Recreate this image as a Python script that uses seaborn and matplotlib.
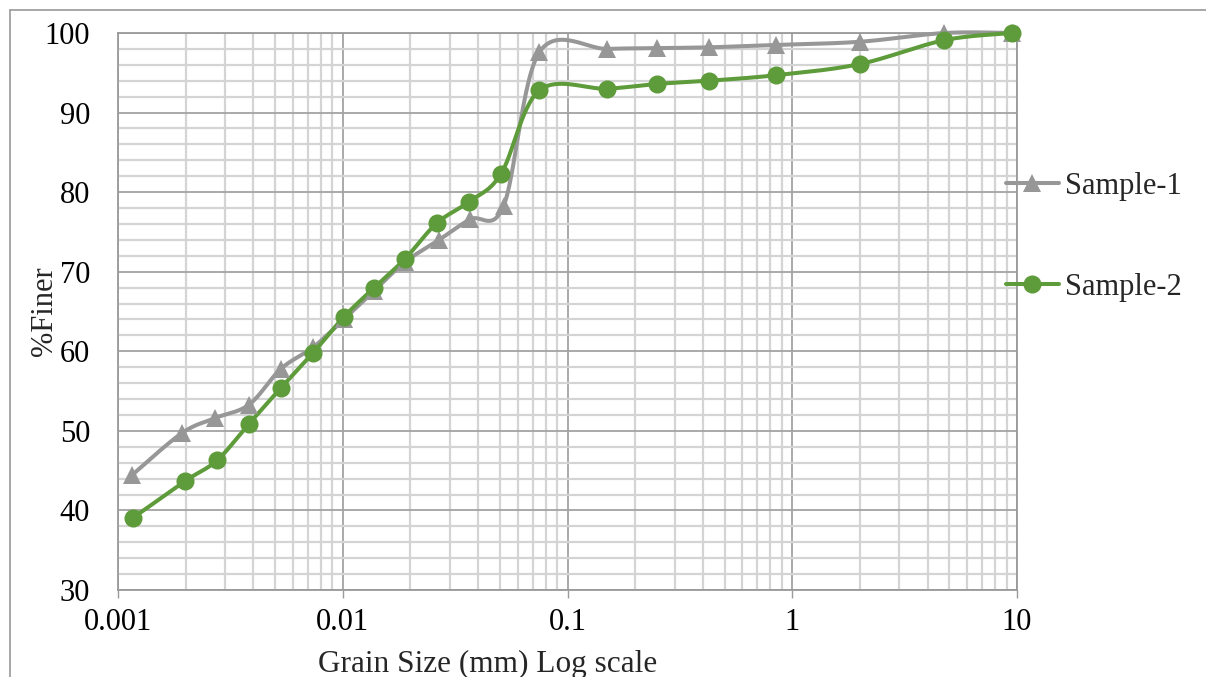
import numpy as np
import pandas as pd
import matplotlib
matplotlib.use("Agg")
import matplotlib.pyplot as plt
import seaborn as sns
from matplotlib.lines import Line2D
from matplotlib.ticker import FixedLocator, NullFormatter, MultipleLocator

# ---------------- data ----------------
size_s1 = [0.00115, 0.00192, 0.00270, 0.00383, 0.00531, 0.00738, 0.0101, 0.0138,
           0.0189, 0.0268, 0.0370, 0.0520, 0.075, 0.15, 0.25, 0.425, 0.85, 2.0, 4.75, 9.5]
finer_s1 = [44.4, 49.7, 51.6, 53.3, 57.8, 60.5, 64.0, 67.6,
            71.2, 74.0, 76.6, 78.3, 97.6, 98.0, 98.1, 98.2, 98.5, 98.9, 100.0, 100.0]

size_s2 = [0.00117, 0.00199, 0.00276, 0.00383, 0.00531, 0.00738, 0.0101, 0.0138,
           0.0189, 0.0262, 0.0365, 0.0506, 0.075, 0.15, 0.25, 0.425, 0.85, 2.0, 4.75, 9.5]
finer_s2 = [39.1, 43.7, 46.3, 50.9, 55.4, 59.8, 64.3, 68.0,
            71.6, 76.1, 78.8, 82.3, 92.8, 93.0, 93.6, 94.0, 94.7, 96.1, 99.1, 100.0]

series_names = ["Sample-1", "Sample-2"]
x_ticks = [0.001, 0.01, 0.1, 1, 10]
x_tick_labels = ["0.001", "0.01", "0.1", "1", "10"]
x_title = "Grain Size (mm) Log scale"
y_title = "%Finer"

GRAY = "#979797"
GREEN = "#5E9B3A"

sns.set_theme(style="white")
plt.rcParams["font.family"] = ["Liberation Serif", "DejaVu Serif"]

fig = plt.figure(figsize=(12.06, 6.77), dpi=100)
ax = fig.add_axes([118 / 1206, 1 - 590 / 677, 899 / 1206, 557 / 677])


def smooth(xs, ys, n=30):
    """Excel-style smoothed line (uniform Catmull-Rom / Bezier) in log-x space."""
    u = np.log10(np.asarray(xs, float))
    v = np.asarray(ys, float)
    P = np.column_stack([u, v])
    P = np.vstack([P[0], P, P[-1]])
    out = []
    t = np.linspace(0, 1, n)[:, None]
    for i in range(1, len(P) - 2):
        p0, p1, p2, p3 = P[i - 1], P[i], P[i + 1], P[i + 2]
        b1 = p1 + (p2 - p0) / 6
        b2 = p2 - (p3 - p1) / 6
        seg = ((1 - t) ** 3) * p1 + 3 * ((1 - t) ** 2) * t * b1 + 3 * (1 - t) * t ** 2 * b2 + t ** 3 * p2
        out.append(seg if i == 1 else seg[1:])
    c = np.vstack(out)
    return 10 ** c[:, 0], c[:, 1]


MS = {"^": 13.5, "o": 13}
for xs, ys, name, col, mk in [(size_s1, finer_s1, series_names[0], GRAY, "^"),
                              (size_s2, finer_s2, series_names[1], GREEN, "o")]:
    sx, sy = smooth(xs, ys)
    sns.lineplot(x=sx, y=sy, ax=ax, color=col, lw=2.9, sort=False, estimator=None,
                 clip_on=False, zorder=3)
    ax.plot(xs, ys, linestyle="none", marker=mk, markersize=MS[mk], color=col,
            markeredgewidth=0, clip_on=False, zorder=4)

ax.set_xscale("log")
ax.set_xlim(0.001, 10)
ax.set_ylim(30, 100)
ax.xaxis.set_major_locator(FixedLocator(x_ticks))
ax.set_xticklabels(x_tick_labels)
minors = [m * 10.0 ** e for e in range(-3, 1) for m in range(2, 10)]
ax.xaxis.set_minor_locator(FixedLocator(minors))
ax.xaxis.set_minor_formatter(NullFormatter())
ax.yaxis.set_major_locator(MultipleLocator(10))
ax.yaxis.set_minor_locator(MultipleLocator(2))

ax.grid(which="major", color="#A3A3A3", lw=1.3, zorder=1)
ax.grid(which="minor", color="#D4D4D4", lw=1.6, zorder=0)
ax.set_axisbelow(True)
for s in ax.spines.values():
    s.set_color("#9A9A9A")
    s.set_linewidth(1.3)

ax.tick_params(axis="x", which="major", direction="out", length=5.8, width=1.0,
               color="#9A9A9A", pad=7, labelsize=22, labelcolor="black", bottom=True)
ax.tick_params(axis="x", which="minor", length=0)
ax.tick_params(axis="y", which="both", length=0, pad=20, labelsize=22, labelcolor="black")

ax.set_xlabel("")
ax.set_ylabel("")
fig.text(488 / 1206, 1 - 664 / 677, x_title, ha="center", va="center", fontsize=22.5)
fig.text(45 / 1206, 1 - 311 / 677, y_title, ha="center", va="center", rotation=90, fontsize=22)

handles = [Line2D([], [], color=GRAY, lw=2.9, marker="^", markersize=13.5, markeredgewidth=0),
           Line2D([], [], color=GREEN, lw=2.9, marker="o", markersize=13, markeredgewidth=0)]
fig.legend(handles, series_names, loc="center left",
           bbox_to_anchor=(978 / 1206, 1 - 237 / 677), frameon=False, fontsize=22,
           handlelength=1.75, handletextpad=0.2, labelspacing=2.35)

# chart-area border
fig.add_artist(Line2D([10 / 1206, 10 / 1206], [0, 1 - 10 / 677], color="#A0A0A0", lw=1.3))
fig.add_artist(Line2D([10 / 1206, 1], [1 - 10 / 677, 1 - 10 / 677], color="#A0A0A0", lw=1.3))

fig.savefig("out.png", dpi=100)
